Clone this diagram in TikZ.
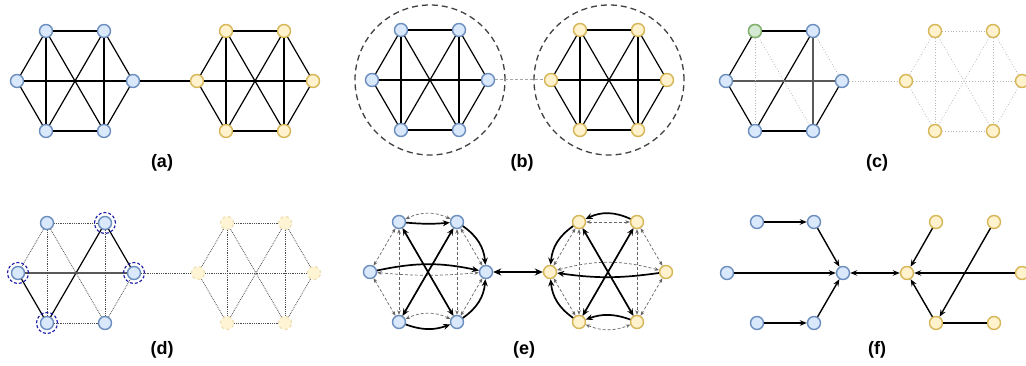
\documentclass[tikz,border=0pt]{standalone}
\usepackage{fontspec}
\setmainfont{Liberation Sans}
\usetikzlibrary{arrows.meta}
\definecolor{bfill}{HTML}{DAE8FC}
\definecolor{bdraw}{HTML}{6C8EBF}
\definecolor{yfill}{HTML}{FFF2CC}
\definecolor{ydraw}{HTML}{D6B656}
\definecolor{gfill}{HTML}{D5E8D4}
\definecolor{gdraw}{HTML}{82B366}
\definecolor{selblue}{HTML}{1A1AA6}
\tikzset{
 vb/.style={circle, draw=bdraw, fill=bfill, line width=1.4pt, minimum size=13pt, inner sep=0pt},
 vy/.style={circle, draw=ydraw, fill=yfill, line width=1.4pt, minimum size=13pt, inner sep=0pt},
 vg/.style={circle, draw=gdraw, fill=gfill, line width=1.4pt, minimum size=13pt, inner sep=0pt},
 vyfade/.style={circle, draw=ydraw!45!white, fill=yfill!85!white, dashed, line width=1.2pt, minimum size=13pt, inner sep=0pt},
 ed/.style={line width=1.2pt, black},
 thickgray/.style={line width=2pt, black!65},
 lightdot/.style={line width=0.8pt, black!28, dotted},
 darkdot/.style={line width=0.8pt, black!70, densely dotted},
 sel/.style={circle, draw=selblue, dashed, line width=1.1pt, dash pattern=on 3pt off 2pt, minimum size=21pt, inner sep=0pt},
 grp/.style={circle, draw=black!75, line width=1.3pt, dash pattern=on 6pt off 4pt, minimum size=150pt, inner sep=0pt},
 msg/.style={line width=1.7pt, -{Stealth[length=7pt,width=6pt]}},
 msgb/.style={line width=1.7pt, {Stealth[length=7pt,width=6pt]}-{Stealth[length=7pt,width=6pt]}},
 ghost/.style={line width=0.7pt, black!60, densely dashed, {Stealth[length=4.5pt,width=3.6pt]}-{Stealth[length=4.5pt,width=3.6pt]}},
 farr/.style={line width=1.4pt, -{Stealth[length=7pt,width=5.5pt]}},
 lab/.style={font=\fontsize{18}{21}\selectfont\bfseries},
}
\newcommand\hexa[4]{%
 \node[#4] (#1L) at (#2,#3) {};
 \node[#4] (#1TL) at (#2+29,#3+50) {};
 \node[#4] (#1TR) at (#2+87,#3+50) {};
 \node[#4] (#1R) at (#2+116,#3) {};
 \node[#4] (#1BL) at (#2+29,#3-50) {};
 \node[#4] (#1BR) at (#2+87,#3-50) {};}
\newcommand\hexedges[2]{%
 \foreach \a/\b in {TL/TR,BL/BR,TL/L,L/BL,TR/R,R/BR,TL/BL,TR/BR,L/R,TL/BR,TR/BL}
  \draw[#2] (#1\a) -- (#1\b);}
\begin{document}
\begin{tikzpicture}[x=1pt,y=1pt]
\useasboundingbox (0,0) rectangle (1026,366);
% ---------- (a)
\hexa{a}{17}{285}{vb}
\hexa{ya}{197}{285}{vy}
\hexedges{a}{ed}
\hexedges{ya}{ed}
\draw[ed] (aR) -- (yaL);
\node[lab] (la) at (162,203) {(a)};
% ---------- (b)
\node[grp] (bg) at (430,286) {};
\node[grp] (ybg) at (609,286) {};
\hexa{b}{372}{286}{vb}
\hexa{yb}{551}{286}{vy}
\hexedges{b}{ed}
\hexedges{yb}{ed}
\draw[line width=1pt, black!35, dash pattern=on 3pt off 2pt] (bR) -- (ybL);
\node[lab] (lb) at (522,203) {(b)};
% ---------- (c)
\hexa{c}{726}{285}{vb}
\node[vg] (cTL) at (755,335) {};
\hexa{yc}{906}{285}{vy}
\foreach \a/\b in {TL/TR,TL/L,L/BL,BL/BR,BR/R,BL/TR} \draw[ed] (c\a) -- (c\b);
\foreach \a/\b in {L/R,TR/BR} \draw[thickgray] (c\a) -- (c\b);
\foreach \a/\b in {TL/BL,TL/BR,TR/R} \draw[lightdot] (c\a) -- (c\b);
\hexedges{yc}{lightdot}
\draw[lightdot] (cR) -- (ycL);
\node[lab] (lc) at (877,203) {(c)};
% ---------- (d)
\hexa{d}{18}{93}{vb}
\hexa{yd}{198}{93}{vyfade}
\foreach \a/\b in {TR/R,TR/BL,L/BL} \draw[ed] (d\a) -- (d\b);
\draw[thickgray] (dL) -- (dR);
\foreach \a/\b in {TL/TR,TL/L,TL/BL,TL/BR,TR/BR,BL/BR,BR/R} \draw[darkdot] (d\a) -- (d\b);
\hexedges{yd}{darkdot}
\draw[darkdot] (dR) -- (ydL);
\foreach \n in {TR,L,R,BL} \node[sel] (ring\n) at (d\n) {};
\node[lab] (ld) at (162,16) {(d)};
% ---------- (e)
\hexa{e}{370}{94}{vb}
\hexa{ye}{550}{94}{vy}
% blue ghosts
\foreach \a/\b in {TL/L,L/BL,TL/BL,TR/BR,TL/BR,TR/BL,TR/R,R/BR} \draw[ghost] (e\a) -- (e\b);
\draw[ghost] (eTR) to[bend right=25] (eTL);
\draw[ghost] (eBR) to[bend right=25] (eBL);
\draw[ghost] (eL) to[bend right=5] (eR);
% blue messages
\draw[msg] (eTL) to[bend right=5] (eTR);
\draw[msg] (eTR) to[bend left=25] (eR);
\draw[msg] (eBR) to[bend right=25] (eR);
\draw[msg] (eL) to[bend left=12] (eR);
\draw[msg] (eBL) to[bend right=20] (eBR);
\draw[msgb] (eTL) -- (eBR);
\draw[msgb] (eBL) -- (eTR);
% yellow ghosts
\foreach \a/\b in {TL/TR,TL/L,L/BL,TL/BL,TR/BR,TL/BR,TR/BL,TR/R,R/BR} \draw[ghost] (ye\a) -- (ye\b);
\draw[ghost] (yeL) to[bend left=15] (yeR);
\draw[ghost] (yeBL) to[bend right=22] (yeBR);
% yellow messages
\draw[msg] (yeTR) to[bend right=25] (yeTL);
\draw[msg] (yeTL) to[bend right=25] (yeL);
\draw[msg] (yeBL) to[bend left=25] (yeL);
\draw[msg] (yeR) to[bend left=8] (yeL);
\draw[msg] (yeBR) to[bend right=20] (yeBL);
\draw[msgb] (yeTR) -- (yeBL);
\draw[msgb] (yeTL) -- (yeBR);
\draw[line width=2.6pt, {Stealth[length=8pt,width=7pt]}-{Stealth[length=8pt,width=7pt]}] (eR) -- (yeL);
\node[lab] (le) at (524,16) {(e)};
% ---------- (f)
\node[vb] (fTL) at (757,144) {};
\node[vb] (fTR) at (814,144) {};
\node[vb] (fL) at (727,93) {};
\node[vb] (fC) at (843,93) {};
\node[vb] (fBL) at (757,43) {};
\node[vb] (fBR) at (814,43) {};
\node[vy] (yfC) at (907,93) {};
\node[vy] (yfTL) at (936,144) {};
\node[vy] (yfTR) at (994,144) {};
\node[vy] (yfR) at (1022,93) {};
\node[vy] (yfBL) at (936,43) {};
\node[vy] (yfBR) at (994,43) {};
\draw[farr] (fTL) -- (fTR);
\draw[farr] (fTR) -- (fC);
\draw[farr] (fL) -- (fC);
\draw[farr] (fBL) -- (fBR);
\draw[farr] (fBR) -- (fC);
\draw[farr, {Stealth[length=7pt,width=5.5pt]}-{Stealth[length=7pt,width=5.5pt]}] (fC) -- (yfC);
\draw[farr] (yfTL) -- (yfC);
\draw[farr] (yfR) -- (yfC);
\draw[farr] (yfBL) -- (yfC);
\draw[farr] (yfTR) -- (yfBL);
\draw[line width=1.4pt] (yfBR) -- (yfBL);
\node[lab] (lf) at (877,16) {(f)};
\end{tikzpicture}
\end{document}
